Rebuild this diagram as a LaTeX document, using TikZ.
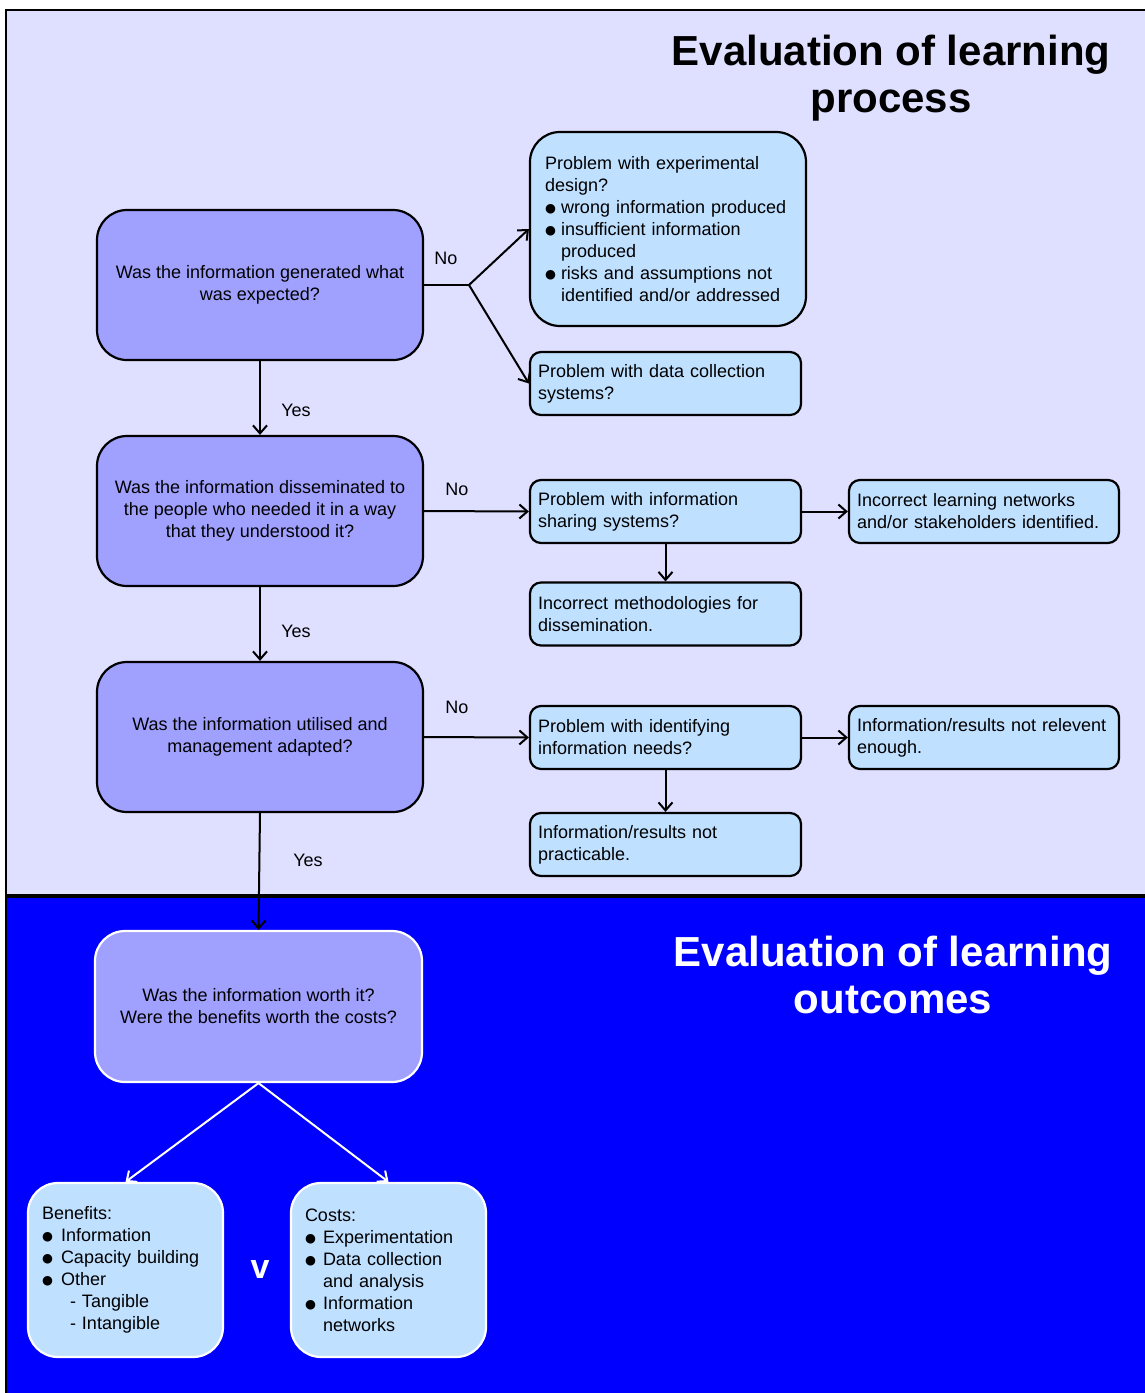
\documentclass[tikz,border=0pt]{standalone}
\usepackage{fontspec}
\setmainfont{Liberation Sans}
\newfontfamily\symfont{DejaVu Sans}
\usetikzlibrary{arrows.meta}
\definecolor{bgtop}{RGB}{223,223,255}
\definecolor{bgbot}{RGB}{0,0,255}
\definecolor{qfill}{RGB}{160,160,255}
\definecolor{pfill}{RGB}{191,224,255}
\newcommand\bul{\raisebox{1.2pt}{\symfont\fontsize{12.5}{12.5}\selectfont ●}}
\newcommand\bi[1]{\makebox[#1][l]{\bul}}
\begin{document}
\begin{tikzpicture}[x=1pt,y=-1pt,
  txt/.style={font=\fontsize{18}{22}\selectfont},
  qbox/.style={txt, draw=black, line width=2.2pt, fill=qfill, rounded corners=30pt,
    minimum width=326pt, minimum height=150pt, align=center, inner sep=0pt},
  pbox/.style={txt, draw=black, line width=2.2pt, fill=pfill, rounded corners=11pt,
    minimum width=271pt, minimum height=63pt, text width=255pt, align=left, inner sep=0pt},
  wbox/.style={txt, draw=white, line width=2.2pt, fill=pfill, rounded corners=30pt,
    minimum width=195pt, minimum height=174pt, text width=167pt, align=left, inner sep=0pt},
  lbl/.style={txt, inner sep=0pt},
  title/.style={font=\fontsize{42}{47}\selectfont\bfseries, align=center, inner sep=0pt},
  arr/.style={line width=2pt, -{Straight Barb[length=8pt,width=14pt]}},
  warr/.style={arr, draw=white},
]
\useasboundingbox (0,0) rectangle (1145,1393);
\clip (0,0) rectangle (1145,1393);
\fill[white] (0,0) rectangle (1145,1393);
% panels
\fill[bgtop] (6,10) rectangle (1160,896);
\fill[bgbot] (6,896) rectangle (1160,1400);
\draw[line width=2.5pt] (6,1400) -- (6,10) -- (1160,10);
\draw[line width=3.5pt] (6,896) -- (1160,896);

% titles
\node[title] (t1) at (891,78) {Evaluation of learning\\process};
\node[title, text=white] (t2) at (893,975) {Evaluation of learning\\outcomes};

% question boxes
\node[qbox] (q1) at (260,285) {Was the information generated what\\was expected?};
\node[qbox] (q2) at (260,511) {Was the information disseminated to\\the people who needed it in a way\\that they understood it?};
\node[qbox] (q3) at (260,737) {Was the information utilised and\\management adapted?};
\node[qbox, draw=white, minimum width=327pt, minimum height=151pt] (q4) at (258.5,1006.5) {Was the information worth it?\\Were the benefits worth the costs?};

% problem boxes
\node[pbox, rounded corners=30pt, minimum width=276pt, minimum height=194pt, text width=246pt] (r1) at (668,229)
  {Problem with experimental\\design?\\
   \bi{16pt}wrong information produced\\
   \bi{16pt}insufficient information\\
   \hspace*{16pt}produced\\
   \bi{16pt}risks and assumptions not\\
   \hspace*{16pt}identified and/or addressed};
\node[pbox] (r2) at (665.5,383.5) {Problem with data collection\\systems?};
\node[pbox] (r3) at (665.5,511.5) {Problem with information\\sharing systems?};
\node[pbox, minimum width=270pt, text width=254pt] (r4) at (984,511.5) {Incorrect learning networks\\and/or stakeholders identified.};
\node[pbox] (r5) at (665.5,614) {Incorrect methodologies for\\dissemination.};
\node[pbox] (r6) at (665.5,737.5) {Problem with identifying\\information needs?};
\node[pbox, minimum width=270pt, text width=254pt] (r7) at (984,737.5) {Information/results not relevent\\enough.};
\node[pbox] (r8) at (665.5,844.5) {Information/results not\\practicable.};

% outcome boxes
\node[wbox] (ben) at (125.5,1270) {Benefits:\\
  \bi{19pt}Information\\
  \bi{19pt}Capacity building\\
  \bi{19pt}Other\\
  \hspace*{28pt}- Tangible\\
  \hspace*{28pt}- Intangible};
\node[wbox] (cost) at (388.5,1270) {Costs:\\
  \bi{18pt}Experimentation\\
  \bi{18pt}Data collection\\
  \hspace*{18pt}and analysis\\
  \bi{18pt}Information\\
  \hspace*{18pt}networks};
\node[font=\fontsize{34}{34}\selectfont\bfseries, text=white, inner sep=0pt] (vs) at (260,1270) {v};

% connectors
\coordinate (br) at (469,285);
\draw[line width=2pt] (q1.east) -- (br);
\draw[arr] (br) -- (r1.west);
\draw[arr] (br) -- (r2.west);
\node[lbl] (no1) at (446,258) {No};
\draw[arr] (q1.south) -- (q2.north);
\node[lbl] (yes1) at (296,410) {Yes};
\draw[arr] (q2.east) -- (r3.west);
\node[lbl] (no2) at (457,489) {No};
\draw[arr] (r3.east) -- (r4.west);
\draw[arr] (r3.south) -- (r5.north);
\draw[arr] (q2.south) -- (q3.north);
\node[lbl] (yes2) at (296,631) {Yes};
\draw[arr] (q3.east) -- (r6.west);
\node[lbl] (no3) at (457,707) {No};
\draw[arr] (r6.east) -- (r7.west);
\draw[arr] (r6.south) -- (r8.north);
\draw[arr] (q3.south) -- (q4.north);
\node[lbl] (yes3) at (308,860) {Yes};
\draw[warr] (q4.south) -- (ben.north);
\draw[warr] (q4.south) -- (cost.north);
\end{tikzpicture}
\end{document}
